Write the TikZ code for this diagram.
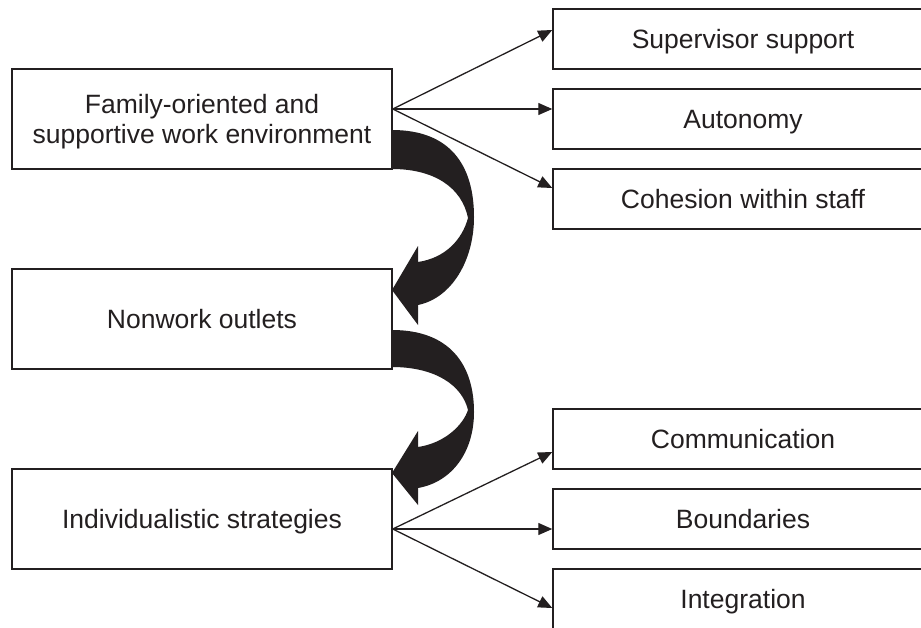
\documentclass[tikz,border=0pt]{standalone}
\usepackage{fontspec}
\setmainfont{Liberation Sans}
\usetikzlibrary{arrows.meta}
\definecolor{ink}{HTML}{231F20}
\begin{document}
\begin{tikzpicture}[x=1pt,y=1pt,
  box/.style={draw=ink, line width=1.5pt, minimum width=380pt, inner sep=0pt,
    align=center, text=ink, font=\fontsize{26.5}{30}\selectfont, text depth=0pt},
  oneline/.style={text height=19pt},
  leftbox/.style={box, minimum height=100pt},
  rightbox/.style={box, oneline, minimum height=60pt},
  link/.style={draw=ink, line width=1.3pt, -{Triangle[length=14pt,width=12pt]}},
  curvearrow/.style={fill=ink}]
% canvas; the right-hand boxes run past its right edge
\useasboundingbox (0,0) rectangle (921,-627);
\fill[white] (0,0) rectangle (921,-627);
\clip (0,0) rectangle (921,-627);

% left column
\node[leftbox] (fam) at (202,-119) {Family-oriented and\\supportive work environment};
\node[leftbox, oneline] (nonwork) at (202,-319) {Nonwork outlets};
\node[leftbox, oneline] (indiv) at (202,-519) {Individualistic strategies};

% right column
\node[rightbox] (sup) at (743,-39) {Supervisor support};
\node[rightbox] (auton) at (743,-119) {Autonomy};
\node[rightbox] (coh) at (743,-199) {Cohesion within staff};
\node[rightbox] (comm) at (743,-439) {Communication};
\node[rightbox] (bound) at (743,-519) {Boundaries};
\node[rightbox] (integ) at (743,-599) {Integration};

% fan-out points
\coordinate (famout) at ([yshift=10pt]fam.east);
\coordinate (indout) at ([yshift=-10pt]indiv.east);

\draw[link] (famout) -- ([yshift=9pt]sup.west);
\draw[link] (famout) -- ([yshift=10pt]auton.west);
\draw[link] (famout) -- ([yshift=11pt]coh.west);

\draw[link] (indout) -- ([yshift=-13pt]comm.west);
\draw[link] (indout) -- ([yshift=-10pt]bound.west);
\draw[link] (indout) -- ([yshift=-9pt]integ.west);

% thick curved arrows between the left boxes
\fill[curvearrow] (392,-130) .. controls (450,-130) and (474,-165) .. (474,-217)
  .. controls (474,-260) and (452,-298) .. (418,-305)
  -- (418,-325) -- (392,-290) -- (418,-246) -- (418,-262)
  .. controls (445,-258) and (462,-240) .. (468,-218)
  .. controls (462,-188) and (435,-169) .. (392,-169) -- cycle;

\fill[curvearrow] (392,-330) .. controls (450,-330) and (474,-365) .. (474,-412)
  .. controls (474,-452) and (452,-482) .. (418,-488)
  -- (418,-505) -- (392,-473) -- (418,-431) -- (418,-447)
  .. controls (445,-443) and (463,-425) .. (468,-410)
  .. controls (462,-385) and (435,-367) .. (392,-367) -- cycle;
\end{tikzpicture}
\end{document}
